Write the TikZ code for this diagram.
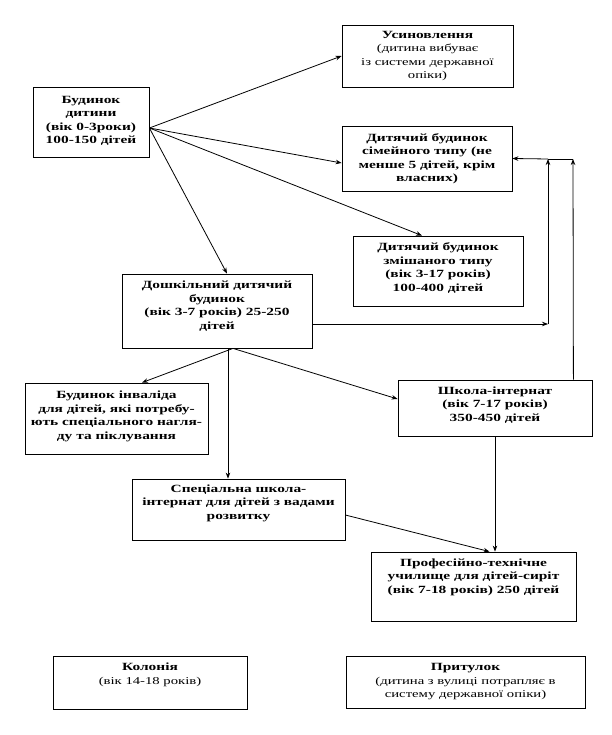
\documentclass[tikz,border=0pt]{standalone}
\usepackage{fontspec}
\setmainfont[FakeStretch=1.4]{Liberation Serif}
\usetikzlibrary{arrows.meta}
\begin{document}
\begin{tikzpicture}[x=1pt,y=-1pt,
  box/.style={draw, line width=0.8pt, inner sep=0pt},
  txt/.style={align=center, font=\bfseries\fontsize{11}{13.5}\selectfont, inner sep=0pt},
  lite/.style={},
  arr/.style={line width=0.8pt, -{Stealth[length=6pt,width=4.5pt]}},
  ln/.style={line width=0.8pt}]
\useasboundingbox (0,0) rectangle (612,735);
\newcommand{\litetext}{\mdseries\fontsize{10.5}{13.5}\selectfont}

\node[box, minimum width=116pt, minimum height=70pt] (bd) at (91,122) {};
\node[txt] (t1) at ([yshift=1pt]bd.center) {Будинок\\дитини\\(вік 0-3роки)\\100-150 дітей};

\node[box, minimum width=171pt, minimum height=62pt] (us) at (427.5,56) {};
\node[txt] (t2) at (us.center) {Усиновлення\\{\litetext (дитина вибуває}\\{\litetext із системи державної}\\{\litetext опіки)}};

\node[box, minimum width=170pt, minimum height=65pt] (sim) at (427,158.5) {};
\node[txt] (t3) at (sim.center) {Дитячий будинок\\сімейного типу (не\\менше 5 дітей, крім\\власних)};

\node[box, minimum width=170pt, minimum height=70pt] (zm) at (438,271) {};
\node[txt] (t4) at ([yshift=3pt]zm.center) {Дитячий будинок\\змішаного типу\\(вік 3-17 років)\\100-400 дітей};

\node[box, minimum width=190pt, minimum height=74pt] (dosh) at (217,311) {};
\node[txt] (t5) at ([yshift=5pt]dosh.center) {Дошкільний дитячий\\будинок\\(вік 3-7 років) 25-250\\дітей};

\node[box, minimum width=183pt, minimum height=71pt] (inv) at (116.5,418.5) {};
\node[txt] (t6) at ([yshift=2pt]inv.center) {Будинок інваліда\\для дітей, які потребу-\\ють спеціального нагля-\\ду та піклування};

\node[box, minimum width=194pt, minimum height=56pt] (shk) at (495,408) {};
\node[txt] (t7) at ([yshift=3pt]shk.center) {Школа-інтернат\\(вік 7-17 років)\\350-450 дітей};

\node[box, minimum width=213pt, minimum height=61pt] (spec) at (238.5,509.5) {};
\node[txt] (t8) at ([yshift=6.5pt]spec.center) {Спеціальна школа-\\інтернат для дітей з вадами\\розвитку};

\node[box, minimum width=205pt, minimum height=69pt] (prof) at (473.5,586.5) {};
\node[txt] (t9) at ([yshift=9.5pt]prof.center) {Професійно-технічне\\училище для дітей-сиріт\\(вік 7-18 років) 250 дітей};

\node[box, minimum width=194pt, minimum height=53pt] (kol) at (150,682.5) {};
\node[txt] (t10) at ([yshift=7.5pt]kol.center) {Колонія\\{\litetext (вік 14-18 років)}};

\node[box, minimum width=239pt, minimum height=52pt] (prit) at (465.5,682) {};
\node[txt] (t11) at (prit.center) {Притулок\\{\litetext (дитина з вулиці потрапляє в}\\{\litetext систему державної опіки)}};

% connectors from Будинок дитини
\coordinate (src) at ([yshift=-6pt]bd.east);
\draw[arr] (src) -- (us.west);
\draw[arr] (src) -- ([yshift=-4.5pt]sim.west);
\draw[arr] (src) -- ([xshift=-16pt]zm.north);
\draw[arr] (src) -- ([xshift=10pt]dosh.north);

% right-hand return lines
\coordinate (dr) at ([yshift=-13pt]dosh.east);
\coordinate (c1) at (548,324);
\coordinate (j1) at (548,159);
\coordinate (j2) at (573,159);
\draw[arr] (dr) -- (c1);
\draw[arr] (c1) -- (j1);
\draw[arr] ([xshift=-19pt]shk.north east) -- (j2);
\draw[ln] (j2) -- (j1);
\draw[arr] (j1) -- (sim.east);

% from Дошкільний
\coordinate (db) at ([xshift=16pt]dosh.south);
\coordinate (dv) at ([xshift=11pt]dosh.south);
\draw[arr] (db) -- ([xshift=25.5pt]inv.north);
\draw[arr] (db) -- ([yshift=9pt]shk.west);
\draw[arr] (dv) -- (dv |- spec.north);

% to Професійно-технічне
\draw[arr] (shk.south) -- (shk.south |- prof.north);
\draw[arr] ([yshift=-5.5pt]spec.east) -- ([xshift=16pt]prof.north);
\end{tikzpicture}
\end{document}
